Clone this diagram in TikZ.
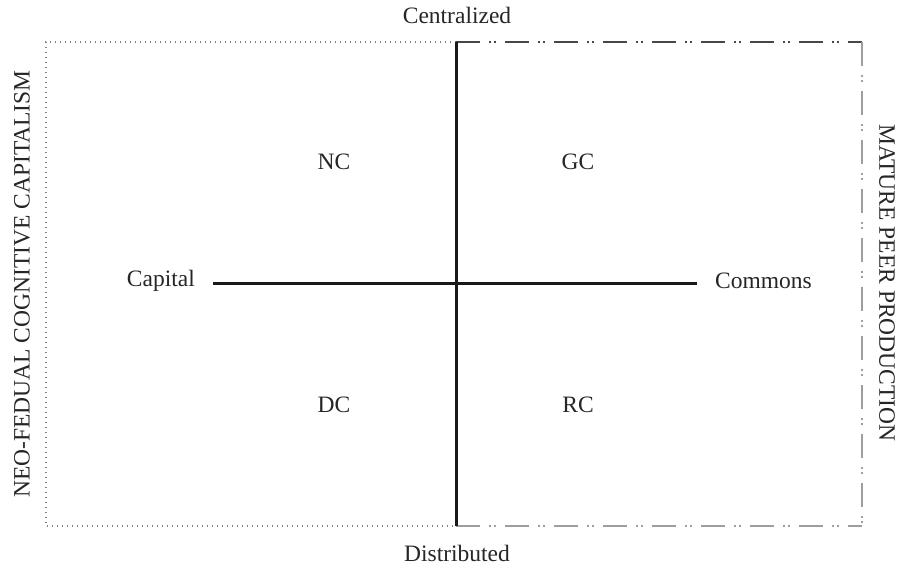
\documentclass[tikz,border=0pt]{standalone}
\usepackage{fontspec}
\setmainfont{Liberation Serif}
\begin{document}
\begin{tikzpicture}[x=1pt,y=-1pt,
  lbl/.style={font=\fontsize{23.5}{28}\selectfont, text=black!85, inner sep=0pt},
  axisline/.style={line width=3pt, black!90},
  dotline/.style={line width=1.3pt, black!50, dash pattern=on 1.3pt off 3.7pt},
  ddline/.style={line width=2.2pt, dash pattern=on 24pt off 9pt on 2pt off 3pt on 2pt off 9pt},
]
\useasboundingbox (0,0) rectangle (902,569);
\coordinate (TL) at (46,42);
\coordinate (TM) at (456,42);
\coordinate (TR) at (862,42);
\coordinate (BL) at (46,526);
\coordinate (BM) at (456,526);
\coordinate (BR) at (862,526);
\coordinate (AL) at (213,284);
\coordinate (AR) at (697,284);
% borders
\draw[dotline] (TM) -- (TL) -- (BL) -- (BM);
\draw[ddline, black!72] (TM) -- (TR);
\draw[ddline, black!38] (TR) -- (BR);
\draw[ddline, black!38] (BM) -- (BR);
% axes
\draw[axisline] (TM) -- (BM);
\draw[axisline] (AL) -- (AR);
% labels
\node[lbl] (cen) at (457,15) {Centralized};
\node[lbl] (dis) at (457,553) {Distributed};
\node[lbl, anchor=east] (cap) at (195,281) {Capital};
\node[lbl, anchor=west] (com) at (715,281) {Commons};
\node[lbl] (nc) at (334,162) {NC};
\node[lbl] (gc) at (578,162) {GC};
\node[lbl] (dc) at (334,405) {DC};
\node[lbl] (rc) at (578,405) {RC};
\node[lbl, rotate=90] (neo) at (22,284) {NEO-FEDUAL COGNITIVE CAPITALISM};
\node[lbl, rotate=-90] (mpp) at (887,283) {MATURE PEER PRODUCTION};
\end{tikzpicture}
\end{document}
